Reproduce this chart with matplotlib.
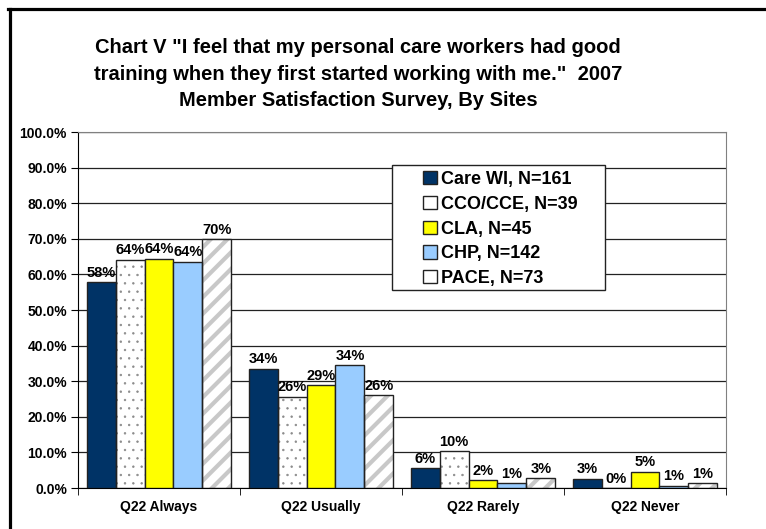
import numpy as np
import matplotlib.pyplot as plt
from matplotlib.patches import Rectangle, Patch
from matplotlib.lines import Line2D

plt.rcParams['font.family'] = ['Liberation Sans', 'DejaVu Sans']
plt.rcParams['font.weight'] = 'bold'

categories = ['Q22 Always', 'Q22 Usually', 'Q22 Rarely', 'Q22 Never']
sites = ['Care WI, N=161', 'CCO/CCE, N=39', 'CLA, N=45', 'CHP, N=142', 'PACE, N=73']
care_wi = [57.8, 33.5, 5.6, 2.6]
cco_cce = [64.1, 25.6, 10.3, 0.0]
cla = [64.4, 28.9, 2.2, 4.6]
chp = [63.6, 34.5, 1.4, 0.7]
pace = [69.9, 26.0, 2.7, 1.4]

W, H = 766, 529
fig = plt.figure(figsize=(W / 100, H / 100), dpi=100)
# plot area: x 78..726 px, y 132..488 px
ax = fig.add_axes([78 / W, 1 - 488 / H, (726 - 78) / W, (488 - 132) / H])

series = [care_wi, cco_cce, cla, chp, pace]
colors = ['#003366', 'white', '#ffff00', '#99ccff', 'white']
hatches = [None, '..', None, None, '//']
hatch_cols = [None, '#8a8a8a', None, None, '#c8c8c8']
hatch_lw = [1, 0.5, 1, 1, 3]
x = np.arange(len(categories))
w = 0.179
for i, vals in enumerate(series):
    pos = x + (i - 2) * w
    if hatches[i]:
        with plt.rc_context({'hatch.linewidth': hatch_lw[i]}):
            ax.bar(pos, vals, w, color=colors[i], hatch=hatches[i], edgecolor=hatch_cols[i],
                   linewidth=0, zorder=2)
        ax.bar(pos, vals, w, color='none', edgecolor='#222222', linewidth=1, zorder=3)
    else:
        ax.bar(pos, vals, w, color=colors[i], edgecolor='#222222', linewidth=1, zorder=3)
    for p, v in zip(pos, vals):
        ax.text(p, v + 0.7, f'{v:.0f}%', ha='center', va='bottom', fontsize=10.5, fontweight='bold')

ax.set_ylim(0, 100)
ax.set_xlim(-0.5, 3.5)
ax.set_yticks(np.arange(0, 101, 10))
ax.set_yticklabels([f'{t:.1f}%' for t in range(0, 101, 10)], fontsize=10, fontweight='bold')
ax.yaxis.grid(True, color='#222222', linewidth=0.9, zorder=0)
ax.set_axisbelow(True)
ax.set_xticks(x)
ax.set_xticklabels(categories, fontsize=10, fontweight='bold')
ax.tick_params(axis='x', length=0, pad=9)
ax.set_xticks(np.arange(-0.5, 3.6, 1), minor=True)
ax.tick_params(axis='x', which='minor', length=5, direction='out')
ax.tick_params(axis='y', length=5, direction='out', pad=3)
ax.spines['top'].set_color('#808080')
ax.spines['right'].set_color('#808080')

handles = [Patch(facecolor=c, edgecolor='#222222', linewidth=1) for c in colors]
fig.patches.append(Rectangle((392 / W, 1 - 290 / H), (605 - 392) / W, (290 - 165) / H,
                             transform=fig.transFigure, facecolor='white', edgecolor='#222222',
                             linewidth=1, zorder=4))
leg = fig.legend(handles, sites, loc='upper left', bbox_to_anchor=(423 / W, 1 - 171 / H),
                 frameon=False, handlelength=0.75, handleheight=0.75, handletextpad=0.25,
                 labelspacing=0.43, borderpad=0, borderaxespad=0,
                 prop={'weight': 'bold', 'size': 13})
leg.set_zorder(5)

fig.text(358 / W, 1 - 74 / H, 'Chart V "I feel that my personal care workers had good\n'
         'training when they first started working with me."  2007\n'
         'Member Satisfaction Survey, By Sites',
         ha='center', va='center', fontsize=14.5, fontweight='bold', linespacing=1.5)

# figure frame (only left and top edges are visible in the original)
fig.lines.append(Line2D([9.5 / W, 9.5 / W], [0, 1 - 8.5 / H], transform=fig.transFigure,
                        color='black', linewidth=2.3))
fig.lines.append(Line2D([8 / W, 1], [1 - 8.5 / H, 1 - 8.5 / H], transform=fig.transFigure,
                        color='black', linewidth=2.3))

fig.savefig('out.png', dpi=100)
